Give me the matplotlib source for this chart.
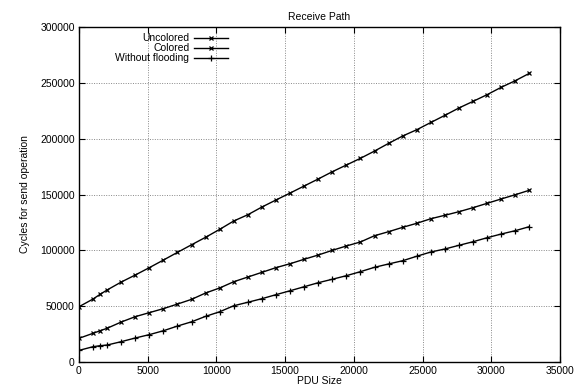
import numpy as np
import matplotlib.pyplot as plt

plt.rcParams['font.family'] = ['Liberation Sans', 'DejaVu Sans']

# PDU sizes (bytes)
pdu_size = [0, 1024, 1536] + list(range(2048, 32768 + 1, 1024))

uncolored = [49.5, 56.4, 60.6, 64.5, 71.6, 77.9, 84.5, 91.3, 98.2, 105.0,
             111.7, 118.8, 126.3, 131.9, 138.8, 145.1, 151.3, 157.6, 163.9,
             170.4, 176.4, 182.4, 188.9, 195.8, 202.4, 208.0, 214.5, 220.9,
             227.5, 233.4, 239.4, 246.0, 251.9, 258.5]
colored = [21.2, 25.7, 28.0, 30.2, 35.8, 40.6, 44.2, 47.8, 51.9, 56.1,
           61.8, 66.3, 71.9, 76.1, 80.3, 84.5, 88.0, 92.0, 95.8,
           100.0, 103.9, 107.5, 113.1, 116.7, 120.6, 124.2, 128.3, 131.4,
           134.6, 138.2, 142.1, 146.0, 149.8, 153.8]
without_flooding = [10.4, 13.7, 14.6, 15.2, 18.2, 21.5, 24.5, 28.0, 32.2, 36.0,
                    40.9, 45.0, 50.4, 53.5, 56.7, 60.3, 63.8, 67.4, 71.0,
                    74.1, 77.3, 80.9, 84.8, 87.8, 90.7, 94.7, 98.5, 101.2,
                    104.5, 107.7, 111.3, 114.6, 117.6, 121.2]

uncolored = np.array(uncolored) * 1000
colored = np.array(colored) * 1000
without_flooding = np.array(without_flooding) * 1000

fig = plt.figure(figsize=(5.74, 3.87), dpi=100)
ax = fig.add_axes([0.1376, 0.0646, 0.838, 0.8656])

ax.plot(pdu_size, uncolored, color='black', lw=1.0, marker='x', ms=3.3, mew=0.9, label='Uncolored')
ax.plot(pdu_size, colored, color='black', lw=1.0, marker='x', ms=3.3, mew=0.9, label='Colored')
ax.plot(pdu_size, without_flooding, color='black', lw=1.0, marker='+', ms=4.2, mew=0.9, label='Without flooding')

ax.set_xlim(0, 35000)
ax.set_ylim(0, 300000)
ax.set_xticks(range(0, 35001, 5000))
ax.set_yticks(range(0, 300001, 50000))
ax.grid(True, linestyle=(0, (1, 1.5)), color='#888888', lw=0.7)
ax.tick_params(direction='in', top=True, right=True, labelsize=7.5, length=4, width=0.8, pad=3)
for s in ax.spines.values():
    s.set_linewidth(1.0)

ax.set_title('Receive Path', fontsize=7.5, pad=5)
ax.set_xlabel('PDU Size', fontsize=7.5, labelpad=0)
ax.set_ylabel('Cycles for send operation', fontsize=7.5, labelpad=7)

ax.legend(loc='upper right', bbox_to_anchor=(0.325, 1.003), frameon=False, markerfirst=False,
          fontsize=7.5, handlelength=3.25, handletextpad=0.45, labelspacing=0.0, borderpad=0.2)

fig.savefig('out.png', dpi=100)
